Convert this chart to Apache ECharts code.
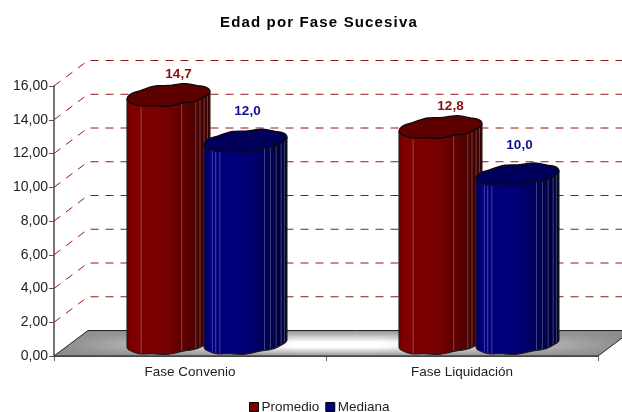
<!DOCTYPE html>
<html><head><meta charset="utf-8">
<style>html,body{margin:0;padding:0;background:#fff}#c{width:622px;height:412px}</style>
<script src="https://cdn.jsdelivr.net/npm/echarts@6/dist/echarts.min.js"></script>
</head><body><div id="c"></div>
<script>
const chartTitle = 'Edad por Fase Sucesiva';
const categories = ['Fase Convenio', 'Fase Liquidación'];
const promedio = [14.7, 12.8];
const mediana = [12.0, 10.0];
const gridValues = [2, 4, 6, 8, 10, 12, 14, 16];
const floorValues = [0];

const FONT = '"Liberation Sans", Arial, sans-serif';
const DEPTH = [34, -25.5];
const GREY = '138,138,138';
const rgb = (c, k) => `rgb(${Math.round(c[0] * k)},${Math.round(c[1] * k)},${Math.round(c[2] * k)})`;
function comma(v, d) { return v.toFixed(d).replace('.', ','); }

// The reference title is letter-spaced; canvas text needs the property set when it is drawn.
const nativeFillText = CanvasRenderingContext2D.prototype.fillText;
CanvasRenderingContext2D.prototype.fillText = function (t, x, y, m) {
  this.letterSpacing = t === chartTitle ? '1.15px' : '0px';
  return m === undefined ? nativeFillText.call(this, t, x, y) : nativeFillText.call(this, t, x, y, m);
};

function renderGrid(params, api) {
  const cs = params.coordSys;
  const y = api.coord([0, api.value(0)])[1];
  return {
    type: 'polyline', silent: true,
    shape: { points: [[cs.x, y], [cs.x + DEPTH[0], y + DEPTH[1]], [cs.x + cs.width + DEPTH[0], y + DEPTH[1]]] },
    style: { fill: 'none', stroke: '#9a1515', lineWidth: 1, lineDash: [8, 7] }
  };
}

function renderFloor(params, api) {
  const cs = params.coordSys;
  const y = api.coord([0, api.value(0)])[1];
  const pts = [[cs.x, y], [cs.x + DEPTH[0], y + DEPTH[1]], [cs.x + cs.width + DEPTH[0], y + DEPTH[1]], [cs.x + cs.width, y]];
  return {
    type: 'group', silent: true, children: [
      { type: 'polygon', shape: { points: pts }, style: {
        fill: { type: 'linear', x: 0, y: 0, x2: 1, y2: 0, colorStops: [
          { offset: 0, color: `rgb(${GREY})` }, { offset: 0.42, color: '#ffffff' }, { offset: 0.56, color: '#ffffff' }, { offset: 1, color: `rgb(${GREY})` }] } } },
      { type: 'polygon', shape: { points: pts }, style: {
        fill: { type: 'linear', x: 0, y: 0, x2: 0, y2: 1, colorStops: [
          { offset: 0, color: `rgba(${GREY},0.95)` }, { offset: 0.45, color: `rgba(${GREY},0)` }, { offset: 0.65, color: `rgba(${GREY},0)` }, { offset: 1, color: `rgba(${GREY},0.9)` }] },
        stroke: 'none' } },
      { type: 'polyline', shape: { points: [[cs.x, y], pts[1], pts[2]] }, style: { fill: 'none', stroke: '#222', lineWidth: 1 } },
      { type: 'polyline', shape: { points: [pts[2], pts[3], [cs.x, y]] }, style: { fill: 'none', stroke: '#222', lineWidth: 1 } }
    ]
  };
}

function cylinderRenderer(shift, base, labelShift, labelColor, streaks) {
  const N = 48, U = 39, VX = 14, VY = 11;
  const T0 = Math.atan2(VX, U);
  const ring = (cx, cy, t) => {
    const fade = Math.abs(Math.sin(t - T0));
    return [cx + U * Math.cos(t) + VX * Math.sin(t), cy - VY * Math.sin(t) - 0.6 * fade * Math.cos(8 * t + 0.6)];
  };
  const frontAngle = f => T0 - Math.PI + Math.acos(1 - 2 * f);
  return function (params, api) {
    const p = api.coord([api.value(0), api.value(1)]);
    const p0 = api.coord([api.value(0), 0]);
    const cx = p[0] + shift + DEPTH[0] / 2;
    const top = p[1] + DEPTH[1] / 2;
    const bot = p0[1] + DEPTH[1] / 2;
    const kids = [];
    const outline = [];
    for (let i = 0; i <= N; i++) outline.push(ring(cx, bot, T0 - Math.PI + Math.PI * i / N));
    for (let i = N; i >= 0; i--) outline.push(ring(cx, top, T0 - Math.PI + Math.PI * i / N));
    kids.push({ type: 'polygon', shape: { points: outline }, style: {
      fill: { type: 'linear', x: 0, y: 0, x2: 1, y2: 0, colorStops: [
        { offset: 0, color: rgb(base, 0.85) }, { offset: 0.06, color: rgb(base, 1) }, { offset: 0.5, color: rgb(base, 0.92) },
        { offset: 0.8, color: rgb(base, 0.62) }, { offset: 1, color: rgb(base, 0.45) }] },
      stroke: 'none' } });
    streaks.forEach(f => {
      const a = ring(cx, top, frontAngle(f)), b = ring(cx, bot, frontAngle(f));
      kids.push({ type: 'line', shape: { x1: a[0], y1: a[1], x2: b[0], y2: b[1] }, style: { stroke: 'rgba(255,255,255,0.25)', lineWidth: 1 } });
    });
    kids.push({ type: 'polygon', shape: { points: outline }, style: { fill: 'none', stroke: '#1a1a1a', lineWidth: 1.2 } });
    const cap = [];
    for (let i = 0; i < 2 * N; i++) cap.push(ring(cx, top, Math.PI * i / N));
    kids.push({ type: 'polygon', shape: { points: cap }, style: { fill: rgb(base, 0.72), stroke: '#0a0a0a', lineWidth: 1.3 } });
    kids.push({ type: 'text', style: { text: comma(api.value(1), 1), x: cx + labelShift[0], y: top + labelShift[1],
      fill: labelColor, font: 'bold 13.5px ' + FONT, textAlign: 'center', textVerticalAlign: 'middle' } });
    return { type: 'group', silent: true, children: kids };
  };
}

const chart = echarts.init(document.getElementById('c'), null, { renderer: 'canvas' });
chart.setOption({
  animation: false,
  backgroundColor: '#fff',
  title: { text: chartTitle, left: 215, top: 10, textStyle: { fontFamily: FONT, fontSize: 15, fontWeight: 'bold', color: '#000' } },
  legend: { left: 244, top: 395, itemWidth: 9, itemHeight: 9, itemGap: 6, icon: 'rect',
    data: ['Promedio', 'Mediana'],
    textStyle: { fontFamily: FONT, fontSize: 13.5, color: '#222', padding: [0, 0, 0, -2] },
    itemStyle: { borderColor: '#000', borderWidth: 1 } },
  grid: { left: 54, right: 24, top: 86, bottom: 56 },
  xAxis: { type: 'category', data: categories,
    axisLine: { lineStyle: { color: '#666', width: 1 } },
    axisTick: { show: true, length: 5, lineStyle: { color: '#666' } },
    axisLabel: { fontFamily: FONT, fontSize: 13.5, color: '#222', margin: 9 } },
  yAxis: { type: 'value', min: 0, max: 16, interval: 2,
    splitLine: { show: false },
    axisLine: { show: true, lineStyle: { color: '#777', width: 2 } },
    axisTick: { show: true, length: 5, lineStyle: { color: '#555' } },
    axisLabel: { fontFamily: FONT, fontSize: 14, color: '#222', margin: 6, formatter: v => comma(v, 2) } },
  series: [
    { type: 'custom', name: 'floor', coordinateSystem: 'cartesian2d', clip: false, z: 1, data: floorValues.map(v => [v]), encode: { y: 0 }, renderItem: renderFloor },
    { type: 'custom', name: 'grid', coordinateSystem: 'cartesian2d', clip: false, z: 1, data: gridValues.map(v => [v]), encode: { y: 0 }, renderItem: renderGrid },
    { type: 'custom', name: 'Promedio', coordinateSystem: 'cartesian2d', clip: false, z: 3, itemStyle: { color: '#800000' },
      data: promedio.map((v, i) => [i, v]), encode: { x: 0, y: 1 },
      renderItem: cylinderRenderer(-38.5, [128, 0, 0], [10, -21], '#8b0f0f', [0.17, 0.66, 0.83, 0.88, 0.93, 0.97]) },
    { type: 'custom', name: 'Mediana', coordinateSystem: 'cartesian2d', clip: false, z: 4, itemStyle: { color: '#000080' },
      data: mediana.map((v, i) => [i, v]), encode: { x: 0, y: 1 },
      renderItem: cylinderRenderer(38.5, [0, 0, 128], [2, -29], '#101090', [0.1, 0.14, 0.19, 0.73, 0.8, 0.87, 0.93, 0.97]) }
  ]
});
</script></body></html>
